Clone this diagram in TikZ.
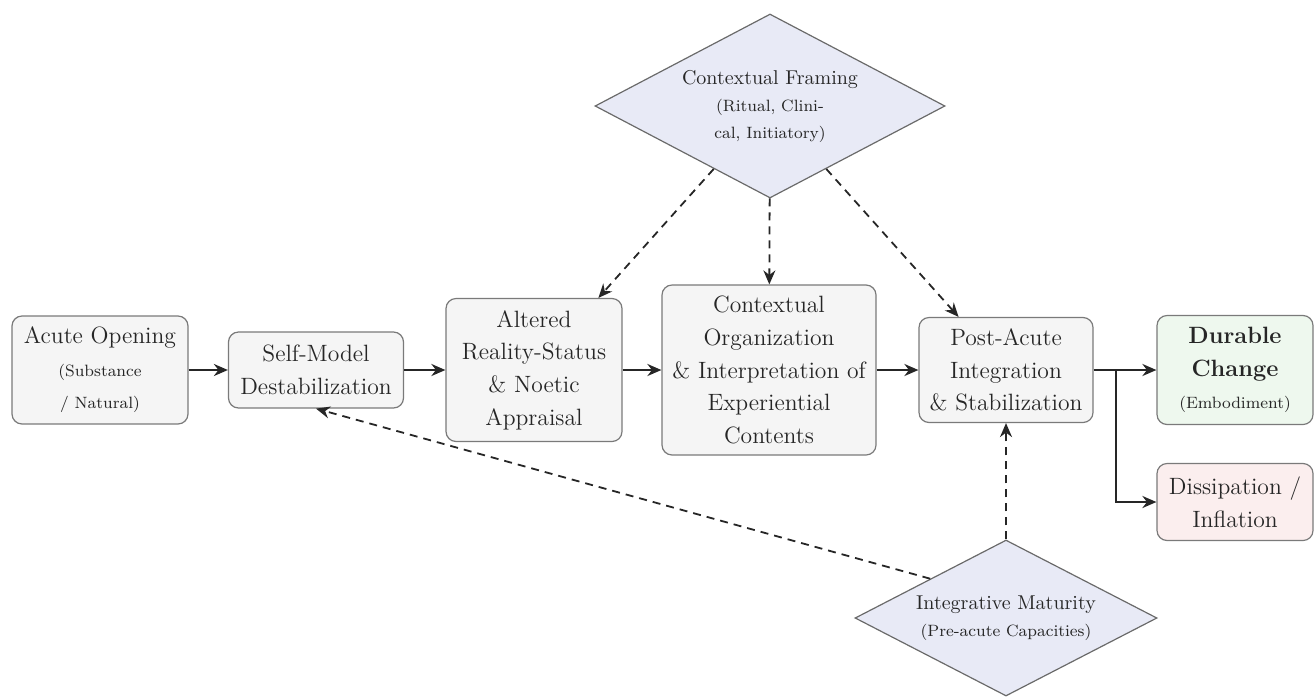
\documentclass[tikz,border=0pt]{standalone}
\usetikzlibrary{shapes.geometric,arrows.meta}
\definecolor{boxfill}{HTML}{F5F5F5}
\definecolor{boxdraw}{HTML}{7A7A7A}
\definecolor{goodfill}{HTML}{EEF8EE}
\definecolor{badfill}{HTML}{FBEEEE}
\definecolor{diafill}{HTML}{E8EAF6}
\definecolor{diadraw}{HTML}{6A6A6A}
\definecolor{txt}{HTML}{262626}
\newcommand{\smallfnt}{\fontsize{8.2}{10}\selectfont}
\tikzset{
  stagebox/.style={draw=boxdraw, fill=boxfill, rounded corners=5pt, line width=0.6pt,
    align=center, inner sep=0pt, text=txt,
    font=\fontsize{11.8}{16.3}\selectfont},
  framebox/.style={diamond, draw=diadraw, fill=diafill, line width=0.6pt,
    align=center, inner sep=0pt, text=txt,
    font=\fontsize{10}{13.5}\selectfont},
  solidarrow/.style={-{Stealth[length=7pt,width=6pt]}, line width=1.3pt, black!85},
  dasharrow/.style={-{Stealth[length=7pt,width=6pt]}, line width=0.9pt, black!85,
    dash pattern=on 4pt off 3pt},
}
\begin{document}
\begin{tikzpicture}[x=0.5pt,y=-0.5pt]
\useasboundingbox (0,0) rectangle (1315,697);
% stage boxes
\node[stagebox, minimum width=88pt, minimum height=54pt] (acute) at (100,370)
  {Acute Opening\\{\smallfnt (Substance}\\{\smallfnt / Natural)}};
\node[stagebox, minimum width=87.5pt, minimum height=38pt] (self) at (316,370)
  {Self-Model\\Destabilization};
\node[stagebox, minimum width=88pt, minimum height=71.5pt] (alt) at (534,370)
  {Altered\\Reality-Status\\\& Noetic\\Appraisal};
\node[stagebox, minimum width=107pt, minimum height=85pt] (org) at (769,370)
  {Contextual\\Organization\\\& Interpretation of\\Experiential\\Contents};
\node[stagebox, minimum width=87pt, minimum height=52.5pt] (post) at (1006,370)
  {Post-Acute\\Integration\\\& Stabilization};
\node[stagebox, fill=goodfill, minimum width=78pt, minimum height=54.5pt] (dur) at (1235,370)
  {\textbf{Durable}\\\textbf{Change}\\{\smallfnt (Embodiment)}};
\node[stagebox, fill=badfill, minimum width=78pt, minimum height=38.5pt] (diss) at (1235,502)
  {Dissipation /\\Inflation};
% diamonds
\node[framebox, shape aspect=1.9, minimum width=175pt, minimum height=92pt] (frame) at (770,106)
  {Contextual Framing\\{\smallfnt (Ritual, Clini-}\\{\smallfnt cal, Initiatory)}};
\node[framebox, shape aspect=1.94, minimum width=151pt, minimum height=78pt] (mat) at (1006,618)
  {Integrative Maturity\\{\smallfnt (Pre-acute Capacities)}};
% main flow
\draw[solidarrow] (acute) -- (self);
\draw[solidarrow] (self) -- (alt);
\draw[solidarrow] (alt) -- (org);
\draw[solidarrow] (org) -- (post);
\draw[solidarrow] (post) -- (dur);
\coordinate (br) at (1116,370);
\draw[solidarrow] (br) |- (diss);
% influences
\draw[dasharrow] (frame) -- (alt);
\draw[dasharrow] (frame) -- (org);
\draw[dasharrow] (frame) -- (post);
\draw[dasharrow] (mat) -- (post);
\draw[dasharrow] (mat.north west) -- (self.south);
\end{tikzpicture}
\end{document}
